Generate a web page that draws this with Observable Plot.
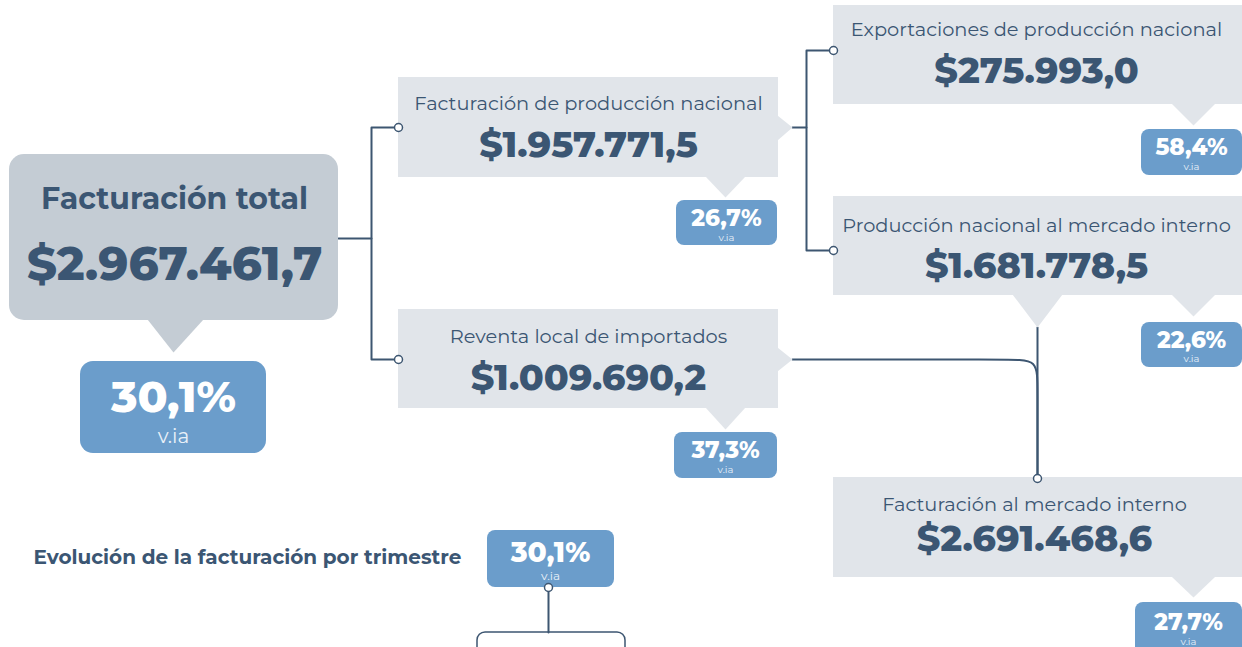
<!DOCTYPE html>
<html>
<head>
<meta charset="utf-8">
<script src="https://cdn.jsdelivr.net/npm/d3@7"></script>
<script src="https://cdn.jsdelivr.net/npm/@observablehq/plot@0.6"></script>
<style>
  html, body { margin: 0; padding: 0; background: #ffffff; overflow: hidden; }
  #chart svg { display: block; }
</style>
</head>
<body>
<div id="chart"></div>
<script>
// ---------- DATA ----------
const nodeLabels = [
  "Facturación total",
  "Facturación de producción nacional",
  "Reventa local de importados",
  "Exportaciones de producción nacional",
  "Producción nacional al mercado interno",
  "Facturación al mercado interno"
];
const nodeValues = [2967461.7, 1957771.5, 1009690.2, 275993.0, 1681778.5, 2691468.6];
const nodeGrowth = [30.1, 26.7, 37.3, 58.4, 22.6, 27.7];
const growthNote = "v.ia";
const quarterTitle = "Evolución de la facturación por trimestre";
const quarterGrowth = [30.1];

// ---------- FORMAT ----------
const loc = d3.formatLocale({decimal: ",", thousands: ".", grouping: [3], currency: ["$", ""]});
const fmtValue = loc.format("$,.1f");
const fmtPct = v => loc.format(",.1f")(v) + "%";

// ---------- LAYOUT (pixel geometry of the diagram) ----------
const W = 1242, H = 647;
const FONT = "Montserrat, Lato, 'Open Sans', sans-serif";
const DARK = "#3b5673";
const LIGHT_BOX = "#e1e5ea";
const MAIN_BOX = "#c4ccd4";
const PCT_BOX = "#6b9dcb";
const LINE = "#3d5671";

const layout = [
  {box: [9, 154, 338, 320], r: 15, fill: MAIN_BOX, cx: 174, labelY: 208, labelSize: 30, valueY: 279, valueSize: 46.5,
   badge: [80, 361, 266, 453], br: 13, bcx: 173, pctY: 411, pctSize: 44, viaY: 442, viaSize: 20,
   pointers: [[[147, 319], [203, 319], [173, 352]]]},
  {box: [398, 77, 778, 177], r: 0, fill: LIGHT_BOX, cx: 588, labelY: 109, labelSize: 19.4, valueY: 156, valueSize: 36.5,
   badge: [676, 200, 777, 245], br: 8, bcx: 726, pctY: 225, pctSize: 23, viaY: 240, viaSize: 10,
   pointers: [[[777, 115], [777, 140], [792, 127]], [[705, 176], [745, 176], [725, 197]]]},
  {box: [398, 309, 778, 408], r: 0, fill: LIGHT_BOX, cx: 588, labelY: 342, labelSize: 19.4, valueY: 389, valueSize: 36.5,
   badge: [674, 432, 777, 478], br: 8, bcx: 725, pctY: 457, pctSize: 23, viaY: 472, viaSize: 10,
   pointers: [[[777, 347], [777, 371], [792, 359]], [[705, 407], [745, 407], [725, 429]]]},
  {box: [833, 5, 1260, 104], r: 0, fill: LIGHT_BOX, cx: 1036, labelY: 35, labelSize: 19.4, valueY: 82, valueSize: 36.5,
   badge: [1141, 129, 1242, 175], br: 8, bcx: 1191, pctY: 154, pctSize: 23, viaY: 169, viaSize: 10,
   pointers: [[[1171, 103], [1215, 103], [1193, 125]]]},
  {box: [833, 196, 1260, 295], r: 0, fill: LIGHT_BOX, cx: 1036, labelY: 231, labelSize: 19.4, valueY: 277, valueSize: 36.5,
   badge: [1141, 322, 1242, 367], br: 8, bcx: 1191, pctY: 347, pctSize: 23, viaY: 361, viaSize: 10,
   pointers: [[[1171, 294], [1215, 294], [1193, 316]], [[1012, 294], [1062, 294], [1037, 327]]]},
  {box: [833, 477, 1260, 577], r: 0, fill: LIGHT_BOX, cx: 1034, labelY: 510, labelSize: 19.4, valueY: 550, valueSize: 36.5,
   badge: [1135, 602, 1242, 670], br: 8, bcx: 1188, pctY: 629, pctSize: 23, viaY: 644, viaSize: 10,
   pointers: [[[1171, 576], [1215, 576], [1193, 597]]]}
];
const quarterLayout = {titleX: 33, titleY: 563, titleSize: 20,
  badge: [487, 530, 614, 587], br: 8, bcx: 550, pctY: 561, pctSize: 28, viaY: 579, viaSize: 12};

const connectors = [
  [[338, 238], [371, 238]],
  [[396, 127], [371, 127], [371, 359], [396, 359]],
  [[792, 127], [806, 127]],
  [[831, 50], [806, 50], [806, 250], [831, 250]],
  [[1037, 327], [1037, 475]],
  [[548, 590], [548, 632]]
];
const curvedConnector = [[792, 359], [1010, 359], [1037, 359], [1037, 386], [1037, 475]];
const joints = [[398, 127], [398, 359], [833, 50], [833, 250], [1037, 478], [548, 587]];

// ---------- BUILD MARK DATA ----------
const boxes = layout.map((l, i) => ({i, x1: l.box[0], y1: l.box[1], x2: l.box[2], y2: l.box[3], r: l.r, fill: l.fill}));
const badges = layout.map(l => ({x1: l.badge[0], y1: l.badge[1], x2: l.badge[2], y2: l.badge[3], r: l.br}));
badges.push({x1: quarterLayout.badge[0], y1: quarterLayout.badge[1], x2: quarterLayout.badge[2], y2: quarterLayout.badge[3], r: quarterLayout.br});

const pointerPts = [];
layout.forEach((l, i) => l.pointers.forEach((tri, j) => tri.forEach(p => pointerPts.push({id: i + "-" + j, x: p[0], y: p[1], fill: l.fill}))));

const connectorPts = [];
connectors.forEach((c, k) => c.forEach(p => connectorPts.push({id: k, x: p[0], y: p[1]})));
const curvePts = curvedConnector.map(p => ({x: p[0], y: p[1]}));
const jointPts = joints.map(p => ({x: p[0], y: p[1]}));

const labels = nodeLabels.map((t, i) => ({i, x: layout[i].cx, y: layout[i].labelY, text: t, size: layout[i].labelSize}));
const values = nodeValues.map((v, i) => ({x: layout[i].cx, y: layout[i].valueY, text: fmtValue(v), size: layout[i].valueSize}));
const pcts = nodeGrowth.map((v, i) => ({x: layout[i].bcx, y: layout[i].pctY, text: fmtPct(v), size: layout[i].pctSize}));
pcts.push({x: quarterLayout.bcx, y: quarterLayout.pctY, text: fmtPct(quarterGrowth[0]), size: quarterLayout.pctSize});
const vias = layout.map(l => ({x: l.bcx, y: l.viaY, text: growthNote, size: l.viaSize}));
vias.push({x: quarterLayout.bcx, y: quarterLayout.viaY, text: growthNote, size: quarterLayout.viaSize});

// ---------- PLOT ----------
const chart = Plot.plot({
  width: W,
  height: H,
  margin: 0,
  x: {domain: [0, W], range: [0, W], axis: null},
  y: {domain: [0, H], range: [0, H], axis: null},
  style: {fontFamily: FONT, background: "#ffffff", overflow: "hidden"},
  marks: [
    Plot.line(connectorPts, {x: "x", y: "y", z: "id", stroke: LINE, strokeWidth: 2, curve: "linear"}),
    Plot.line(curvePts, {x: "x", y: "y", stroke: LINE, strokeWidth: 2, curve: "basis"}),
    Plot.rect([{x1: 477, y1: 632, x2: 625, y2: 700}], {x1: "x1", y1: "y1", x2: "x2", y2: "y2", fill: "none", stroke: LINE, strokeWidth: 1.5, rx: 8}),
    Plot.line(pointerPts, {x: "x", y: "y", z: "id", fill: d => d.fill, stroke: "none"}),
    Plot.rect(boxes.filter(d => d.r > 0), {x1: "x1", y1: "y1", x2: "x2", y2: "y2", fill: "fill", rx: 15}),
    Plot.rect(boxes.filter(d => d.r === 0), {x1: "x1", y1: "y1", x2: "x2", y2: "y2", fill: "fill"}),
    Plot.rect(badges.filter(d => d.r > 10), {x1: "x1", y1: "y1", x2: "x2", y2: "y2", fill: PCT_BOX, rx: 13}),
    Plot.rect(badges.filter(d => d.r <= 10), {x1: "x1", y1: "y1", x2: "x2", y2: "y2", fill: PCT_BOX, rx: 8}),
    Plot.dot(jointPts, {x: "x", y: "y", r: 4, fill: "#ffffff", stroke: LINE, strokeWidth: 1.5}),
    Plot.text(labels.filter(d => d.i === 0), {x: "x", y: "y", text: "text", fontSize: d => d.size, fontWeight: 700, fill: DARK, textAnchor: "middle", lineAnchor: "bottom"}),
    Plot.text(labels.filter(d => d.i > 0), {x: "x", y: "y", text: "text", fontSize: d => d.size, fontWeight: 400, fill: DARK, textAnchor: "middle", lineAnchor: "bottom"}),
    Plot.text(values, {x: "x", y: "y", text: "text", fontSize: d => d.size, fontWeight: 800, fill: DARK, textAnchor: "middle", lineAnchor: "bottom"}),
    Plot.text(pcts, {x: "x", y: "y", text: "text", fontSize: d => d.size, fontWeight: 800, fill: "#ffffff", textAnchor: "middle", lineAnchor: "bottom"}),
    Plot.text(vias, {x: "x", y: "y", text: "text", fontSize: d => d.size, fontWeight: 400, fill: "#e8f0f8", textAnchor: "middle", lineAnchor: "bottom"}),
    Plot.text([quarterTitle], {x: quarterLayout.titleX, y: quarterLayout.titleY, text: d => d, fontSize: quarterLayout.titleSize, fontWeight: 700, fill: DARK, textAnchor: "start", lineAnchor: "bottom"})
  ]
});
document.getElementById("chart").appendChild(chart);
</script>
</body>
</html>
